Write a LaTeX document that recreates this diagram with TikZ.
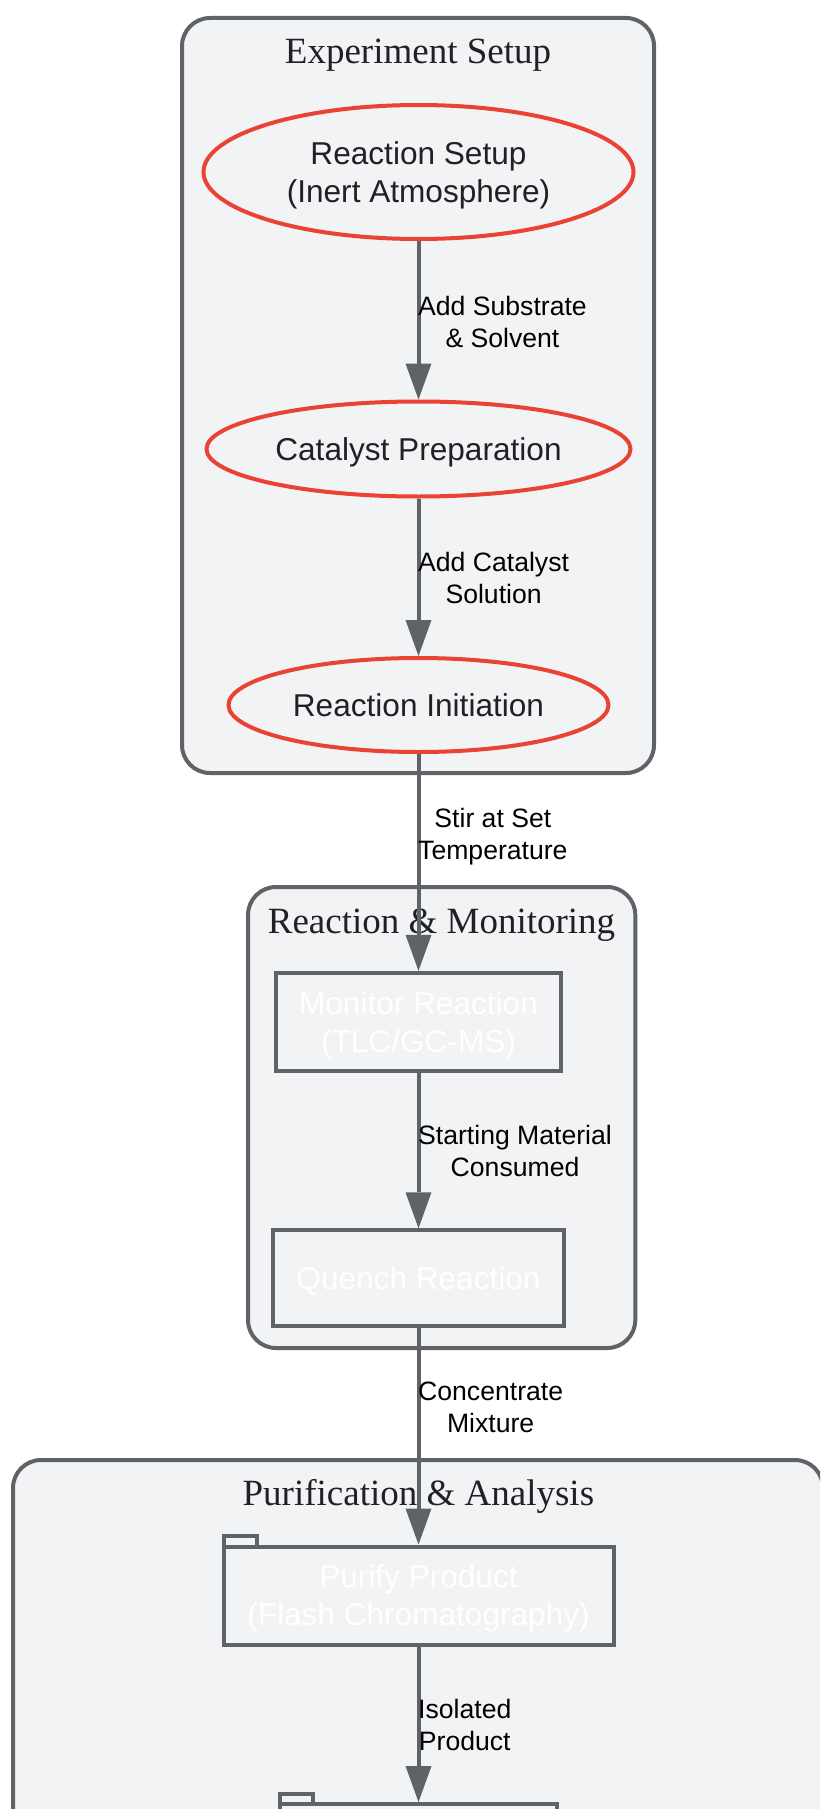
\documentclass[tikz,border=0pt]{standalone}
\usepackage{fontspec}
\setmainfont{Liberation Serif}
\newfontfamily\sansfont{Liberation Sans}
\usetikzlibrary{shapes.geometric,arrows.meta}
\definecolor{gborder}{HTML}{5F6368}
\definecolor{gfill}{HTML}{F1F3F4}
\definecolor{gred}{HTML}{EA4335}
\definecolor{gtext}{HTML}{202124}
\begin{document}
\begin{tikzpicture}[x=1pt,y=-1pt,
    cluster/.style={draw=gborder,fill=gfill,line width=4pt,rounded corners=28pt},
    clustertitle/.style={anchor=base,inner sep=0pt,text=gtext,font=\fontsize{37}{44}\selectfont},
    stage/.style={ellipse,draw=gred,fill=gfill,line width=4pt,inner sep=0pt,text depth=0pt,text=gtext,align=center,font=\sansfont\fontsize{31.6}{38}\selectfont},
    task/.style={rectangle,draw=gborder,fill=gfill,line width=4pt,inner sep=0pt,text depth=0pt,text=white,align=center,font=\sansfont\fontsize{31.6}{38}\selectfont},
    tabline/.style={draw=gborder,fill=gfill,line width=4pt},
    flow/.style={draw=gborder,line width=4pt,-{Triangle[length=36pt,width=26pt,line width=0pt]}},
    flowlabel/.style={anchor=west,inner sep=0pt,align=center,text=black,font=\sansfont\fontsize{26.6}{32}\selectfont}]
    \useasboundingbox (0,0) rectangle (820,1809);
    \clip (0,0) rectangle (820,1809);

    % subgraphs
    \draw[cluster] (182,18) rectangle (654,773);
    \draw[cluster] (248,887) rectangle (635.3,1348);
    \draw[cluster] (13,1460) rectangle (823,1950);
    \node[clustertitle] (setuptitle) at (418,63.3) {Experiment Setup};
    \node[clustertitle] (monitortitle) at (441.5,933.3) {Reaction \& Monitoring};
    \node[clustertitle] (puretitle) at (418.4,1505) {Purification \& Analysis};

    % steps
    \node[stage,minimum width=430pt,minimum height=134pt] (setup) at (418.5,172) {Reaction Setup\\(Inert Atmosphere)};
    \node[stage,minimum width=424pt,minimum height=95pt] (catprep) at (418.5,449) {Catalyst Preparation};
    \node[stage,minimum width=380pt,minimum height=94pt] (init) at (418.5,705) {Reaction Initiation};
    \node[task,minimum width=285pt,minimum height=98pt] (monitor) at (418.5,1021.8) {Monitor Reaction\\(TLC/GC-MS)};
    \node[task,minimum width=291pt,minimum height=96pt] (quench) at (418.5,1278.3) {Quench Reaction};
    \node[task,minimum width=390pt,minimum height=98pt] (purify) at (418.5,1595.5) {Purify Product\\(Flash Chromatography)};
    \node[task,minimum width=277pt,minimum height=98pt] (final) at (418.5,1853) {};
    \draw[tabline] ([xshift=2pt,yshift=-2pt]purify.north west) rectangle ++(33,-11);
    \draw[tabline] ([xshift=2pt,yshift=-2pt]final.north west) rectangle ++(33,-10.5);

    % edges
    \foreach \a/\b in {setup/catprep,catprep/init,init/monitor,monitor/quench,quench/purify,purify/final}
        \draw[flow] (\a) -- (\b);

    \foreach \n/\y/\txt in {1/322/{Add Substrate\\\& Solvent},2/578/{Add Catalyst\\Solution},
        3/836.5/{Stir at Set\\Temperature},4/1151/{Starting Material\\Consumed},
        5/1407.5/{Concentrate\\Mixture},6/1725/{Isolated\\Product}}
        \node[flowlabel] (lbl\n) at (418,\y) {\txt};

\end{tikzpicture}
\end{document}
